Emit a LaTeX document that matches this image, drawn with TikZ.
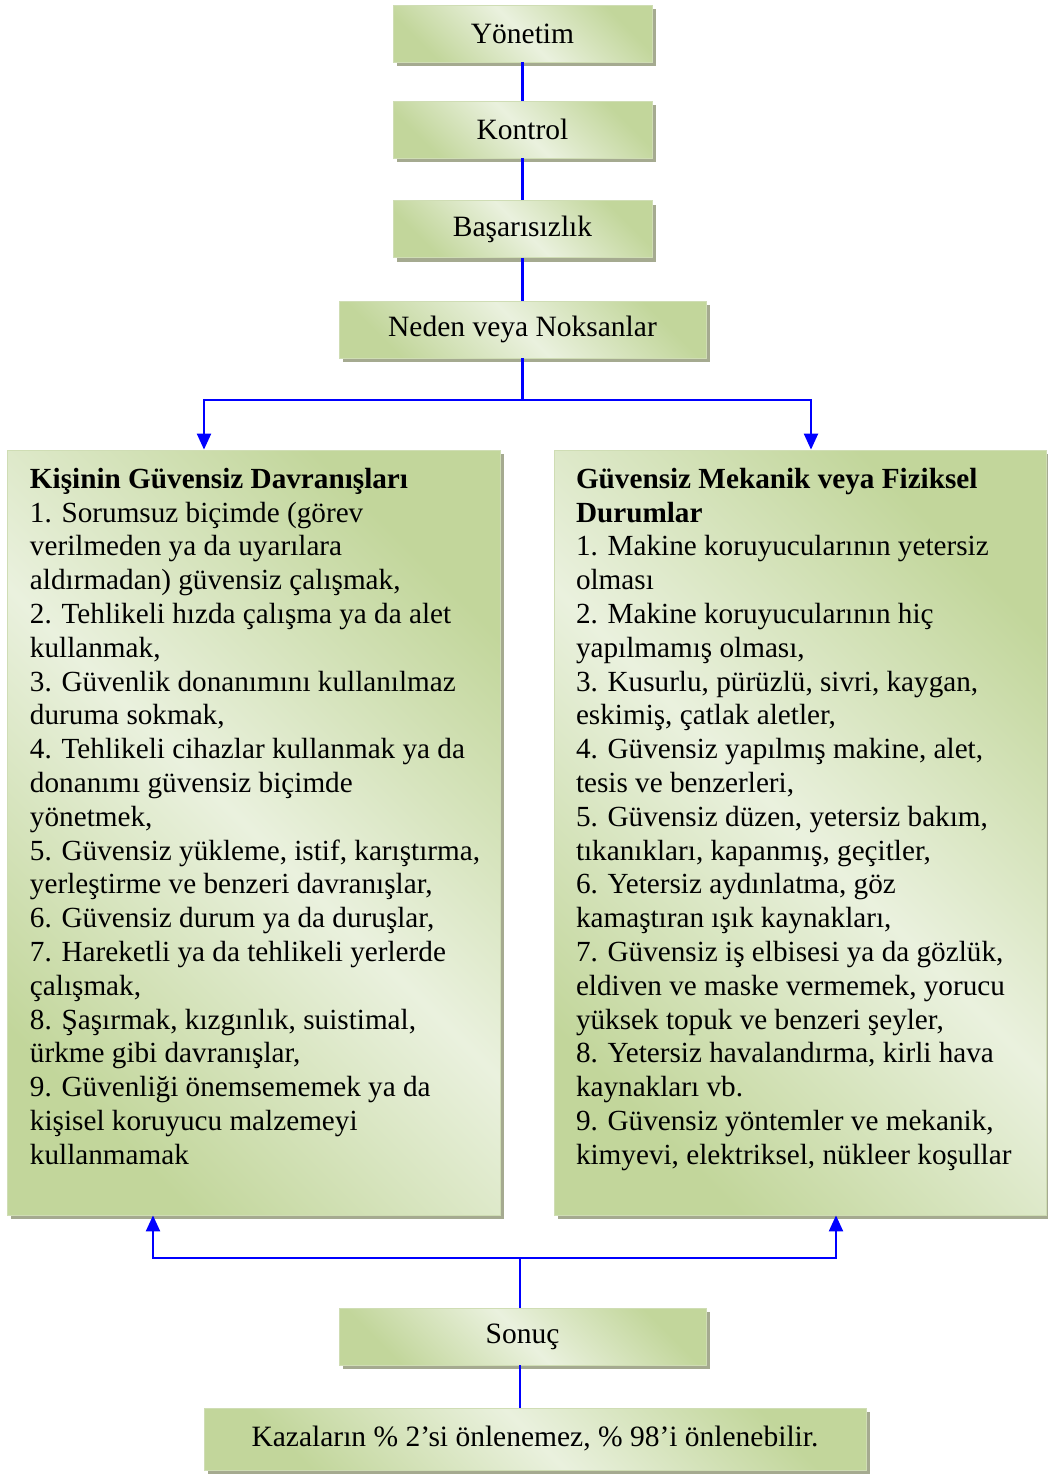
\documentclass[tikz,border=0pt]{standalone}
\usepackage{fontspec}
\setmainfont{Liberation Serif}
\usepackage{tikz}
\usetikzlibrary{arrows.meta,shadows}

\definecolor{boxlight}{HTML}{EAF1DE}
\definecolor{boxgreen}{HTML}{C2D69B}
\definecolor{boxedge}{HTML}{CFDDB4}
\definecolor{boxshade}{HTML}{A5AA90}
\definecolor{linkblue}{HTML}{0000FF}

\tikzset{
  greenbox/.style={draw=boxedge, line width=0.4pt,
    top color=boxgreen, bottom color=boxgreen, middle color=boxlight,
    shading angle=-45,
    drop shadow={shadow xshift=2pt, shadow yshift=-2pt, fill=boxshade, opacity=1},
    inner sep=0pt, font=\fontsize{14.75}{16.9}\selectfont},
  boxtext/.style={anchor=north west, inner sep=0pt, align=left,
    font=\fontsize{14.6}{16.9}\selectfont},
  link/.style={draw=linkblue, line width=1.1pt},
  linkarrow/.style={link, -{Triangle[width=7pt,length=8pt]}}
}

\begin{document}
\begin{tikzpicture}[x=0.5pt,y=-0.5pt]
				\useasboundingbox (0,0) rectangle (1048,1474);
				\node[greenbox, minimum width=129.5pt, minimum height=28.5pt] (yonetim) at (522.5, 33.5) {Yönetim};
				\node[greenbox, minimum width=129.5pt, minimum height=28.5pt] (kontrol) at (522.5, 129.5) {Kontrol};
				\node[greenbox, minimum width=129.5pt, minimum height=28.5pt] (basari) at (522.5, 229) {Başarısızlık};
				\node[greenbox, minimum width=183.5pt, minimum height=28.5pt] (neden) at (522.5, 329.5) {Neden veya Noksanlar};
				\node[greenbox, minimum width=246.5pt, minimum height=382.5pt] (kisi) at (253.5, 832.5) {};
				\node[greenbox, minimum width=246pt, minimum height=382.5pt] (mekanik) at (800, 832.5) {};
				\node[greenbox, minimum width=183.5pt, minimum height=28.5pt] (sonuc) at (522.5, 1336.5) {Sonuç};
				\node[greenbox, minimum width=331pt, minimum height=31pt] (kaza) at (535, 1439) {Kazaların \% 2’si önlenemez, \% 98’i önlenebilir.};
				% list texts
				\node[boxtext] (kisitext) at ([xshift=11.5pt, yshift=-9pt]kisi.north west) {\textbf{Kişinin Güvensiz Davranışları}\\
1. Sorumsuz biçimde (görev\\
verilmeden ya da uyarılara\\
aldırmadan) güvensiz çalışmak,\\
2. Tehlikeli hızda çalışma ya da alet\\
kullanmak,\\
3. Güvenlik donanımını kullanılmaz\\
duruma sokmak,\\
4. Tehlikeli cihazlar kullanmak ya da\\
donanımı güvensiz biçimde\\
yönetmek,\\
5. Güvensiz yükleme, istif, karıştırma,\\
yerleştirme ve benzeri davranışlar,\\
6. Güvensiz durum ya da duruşlar,\\
7. Hareketli ya da tehlikeli yerlerde\\
çalışmak,\\
8. Şaşırmak, kızgınlık, suistimal,\\
ürkme gibi davranışlar,\\
9. Güvenliği önemsememek ya da\\
kişisel koruyucu malzemeyi\\
kullanmamak};
				\node[boxtext] (mekaniktext) at ([xshift=11pt, yshift=-9pt]mekanik.north west) {\textbf{Güvensiz Mekanik veya Fiziksel}\\
\textbf{Durumlar}\\
1. Makine koruyucularının yetersiz\\
olması\\
2. Makine koruyucularının hiç\\
yapılmamış olması,\\
3. Kusurlu, pürüzlü, sivri, kaygan,\\
eskimiş, çatlak aletler,\\
4. Güvensiz yapılmış makine, alet,\\
tesis ve benzerleri,\\
5. Güvensiz düzen, yetersiz bakım,\\
tıkanıkları, kapanmış, geçitler,\\
6. Yetersiz aydınlatma, göz\\
kamaştıran ışık kaynakları,\\
7. Güvensiz iş elbisesi ya da gözlük,\\
eldiven ve maske vermemek, yorucu\\
yüksek topuk ve benzeri şeyler,\\
8. Yetersiz havalandırma, kirli hava\\
kaynakları vb.\\
9. Güvensiz yöntemler ve mekanik,\\
kimyevi, elektriksel, nükleer koşullar};
				% connectors
				\coordinate (split) at (522.5, 400);
				\coordinate (join) at (520, 1258);
				\draw[link] (yonetim) -- (kontrol);
				\draw[link] (kontrol) -- (basari);
				\draw[link] (basari) -- (neden);
				\draw[link] (neden) -- (split);
				\draw[linkarrow] (split) -| ([xshift=-24.75pt]kisi.north);
				\draw[linkarrow] (split) -| ([xshift=5.5pt]mekanik.north);
				\draw[link] (sonuc.north -| join) -- (join);
				\draw[linkarrow] (join) -| ([xshift=-50.25pt]kisi.south);
				\draw[linkarrow] (join) -| ([xshift=18pt]mekanik.south);
				\draw[link] (sonuc.south -| join) -- (join |- kaza.north);
			\end{tikzpicture}
\end{document}
